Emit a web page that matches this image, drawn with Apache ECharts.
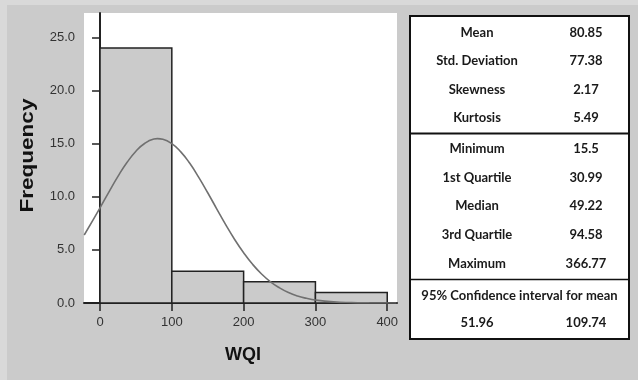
<!DOCTYPE html>
<html>
<head>
<meta charset="utf-8">
<script src="https://cdn.jsdelivr.net/npm/echarts@6/dist/echarts.min.js"></script>
<style>
  html, body { margin: 0; padding: 0; background: #d9d9d9; }
  #chart { width: 638px; height: 380px; }
</style>
</head>
<body>
<div id="chart"></div>
<script>
// Histogram of WQI: bin edges and counts
const binStarts = [0, 100, 200, 300];
const binEnds = [100, 200, 300, 400];
const binCounts = [24, 3, 2, 1];

// Fitted normal curve (frequency scale)
const curveX = [-22, 0, 12.5, 25, 37.5, 50, 62.5, 75, 80, 87.5, 100, 112.5, 125, 137.5, 150, 162.5, 175, 187.5, 200, 212.5, 225, 237.5, 250, 262.5, 275, 287.5, 300, 325, 350, 375, 400, 413];
const curveY = [6.4, 8.96, 10.47, 11.92, 13.22, 14.29, 15.04, 15.43, 15.47, 15.41, 15.0, 14.23, 13.15, 11.83, 10.38, 8.87, 7.38, 5.98, 4.73, 3.64, 2.73, 1.99, 1.42, 0.98, 0.66, 0.44, 0.28, 0.107, 0.036, 0.011, 0.003, 0.002];

// Axis ticks
const xTicks = [0, 100, 200, 300, 400];
const yTicks = [0, 5, 10, 15, 20, 25];

// Descriptive statistics table
const statLabels = ['Mean', 'Std. Deviation', 'Skewness', 'Kurtosis', 'Minimum', '1st Quartile', 'Median', '3rd Quartile', 'Maximum'];
const statValues = ['80.85', '77.38', '2.17', '5.49', '15.5', '30.99', '49.22', '94.58', '366.77'];
const ciTitle = '95% Confidence interval for mean';
const ciValues = ['51.96', '109.74'];

const binData = binStarts.map((s, i) => [s, binEnds[i], binCounts[i]]);
const curveData = curveX.map((x, i) => [x, curveY[i]]);

const tableFont = 'Lato, "Noto Sans", sans-serif';
const rowY = [33, 61, 89.5, 118, 149, 177.5, 206, 235, 264];
const labelCx = 477, valueCx = 586;

const tableGraphics = [
  { type: 'rect', shape: { x: 410, y: 16, width: 219, height: 323 },
    style: { fill: '#ffffff', stroke: '#111111', lineWidth: 2 }, z: 10 },
  { type: 'line', shape: { x1: 410, y1: 133.5, x2: 629, y2: 133.5 },
    style: { stroke: '#111111', lineWidth: 2 }, z: 11 },
  { type: 'line', shape: { x1: 410, y1: 279.5, x2: 629, y2: 279.5 },
    style: { stroke: '#111111', lineWidth: 1.5 }, z: 11 }
];
statLabels.forEach((lab, i) => {
  tableGraphics.push({ type: 'text', x: labelCx, y: rowY[i], z: 12,
    style: { text: lab, font: 'bold 13px ' + tableFont, fill: '#1a1a1a', align: 'center', verticalAlign: 'middle' } });
  tableGraphics.push({ type: 'text', x: valueCx, y: rowY[i], z: 12,
    style: { text: statValues[i], font: 'bold 13px ' + tableFont, fill: '#1a1a1a', align: 'center', verticalAlign: 'middle' } });
});
tableGraphics.push({ type: 'text', x: 519.5, y: 295.5, z: 12,
  style: { text: ciTitle, font: 'bold 13px ' + tableFont, fill: '#1a1a1a', align: 'center', verticalAlign: 'middle' } });
tableGraphics.push({ type: 'text', x: labelCx, y: 323, z: 12,
  style: { text: ciValues[0], font: 'bold 13px ' + tableFont, fill: '#1a1a1a', align: 'center', verticalAlign: 'middle' } });
tableGraphics.push({ type: 'text', x: valueCx, y: 323, z: 12,
  style: { text: ciValues[1], font: 'bold 13px ' + tableFont, fill: '#1a1a1a', align: 'center', verticalAlign: 'middle' } });

const chart = echarts.init(document.getElementById('chart'), null, { renderer: 'canvas' });

chart.setOption({
  animation: false,
  backgroundColor: '#cbcbcb',
  grid: {
    left: 84, right: 241, top: 13, bottom: 77,
    show: true, backgroundColor: '#ffffff', borderWidth: 0
  },
  xAxis: {
    type: 'value',
    min: -22.3, max: 413.6,
    axisLine: { show: true, lineStyle: { color: '#222222', width: 2 } },
    axisTick: { show: true, length: 8, customValues: xTicks, lineStyle: { color: '#222222', width: 1.5 } },
    axisLabel: { customValues: xTicks, margin: 13, color: '#333333', fontSize: 13, fontFamily: '"Liberation Sans", Arial, sans-serif' },
    splitLine: { show: false }
  },
  yAxis: {
    type: 'value',
    min: 0, max: 27.3,
    axisLine: { show: true, lineStyle: { color: '#222222', width: 2 } },
    axisTick: { show: true, length: 8, customValues: yTicks, lineStyle: { color: '#222222', width: 1.5 } },
    axisLabel: { customValues: yTicks, margin: 9, color: '#333333', fontSize: 13,
      fontFamily: '"Liberation Sans", Arial, sans-serif', formatter: v => v.toFixed(1) },
    splitLine: { show: false }
  },
  series: [
    {
      type: 'custom',
      name: 'Frequency',
      data: binData,
      encode: { x: [0, 1], y: 2 },
      renderItem: (params, api) => {
        const topLeft = api.coord([api.value(0), api.value(2)]);
        const bottomRight = api.coord([api.value(1), 0]);
        return {
          type: 'rect',
          shape: { x: topLeft[0], y: topLeft[1], width: bottomRight[0] - topLeft[0], height: bottomRight[1] - topLeft[1] },
          style: { fill: '#cbcbcb', stroke: '#222222', lineWidth: 1.5 }
        };
      },
      z: 3
    },
    {
      type: 'line',
      name: 'Normal',
      data: curveData,
      smooth: true,
      showSymbol: false,
      lineStyle: { color: '#707070', width: 1.6 },
      z: 4
    }
  ],
  graphic: [
    { type: 'rect', shape: { x: 0, y: 0, width: 638, height: 5 }, style: { fill: '#d9d9d9' } },
    { type: 'rect', shape: { x: 0, y: 0, width: 7, height: 380 }, style: { fill: '#d9d9d9' } },
    { type: 'text', x: 28, y: 155.5, rotation: Math.PI / 2, scaleX: 1.25, z: 12,
      style: { text: 'Frequency', font: 'bold 18px "Liberation Sans", Arial, sans-serif', fill: '#111111', align: 'center', verticalAlign: 'middle' } },
    { type: 'text', x: 243, y: 355, z: 12,
      style: { text: 'WQI', font: 'bold 18px "Liberation Sans", Arial, sans-serif', fill: '#111111', align: 'center', verticalAlign: 'middle' } }
  ].concat(tableGraphics)
});
</script>
</body>
</html>
